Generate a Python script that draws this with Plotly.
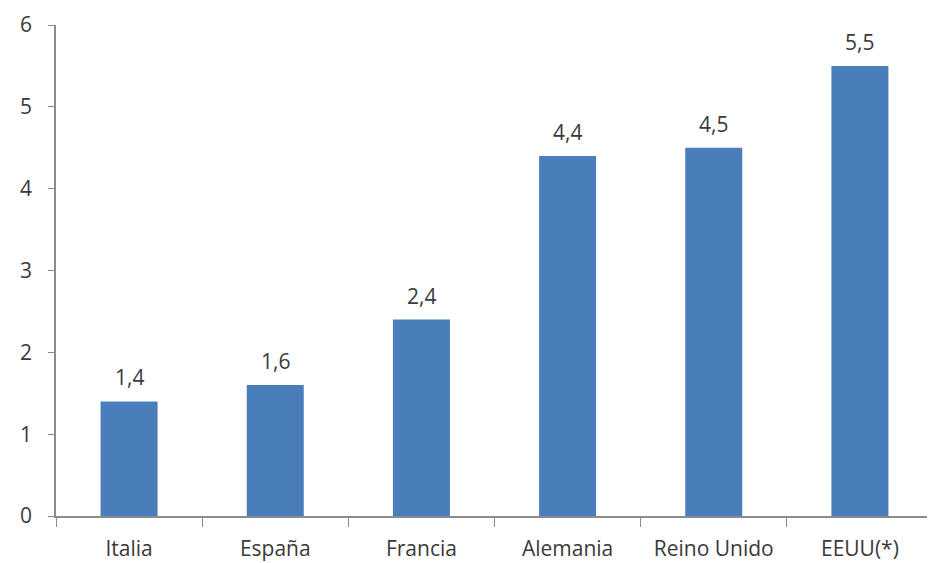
import plotly.graph_objects as go

categories = ["Italia", "España", "Francia", "Alemania", "Reino Unido", "EEUU(*)"]
values = [1.4, 1.6, 2.4, 4.4, 4.5, 5.5]
y_ticks = [0, 1, 2, 3, 4, 5, 6]

fig = go.Figure(go.Bar(x=categories, y=values, marker=dict(color="#4A7EBB", line=dict(width=0)), width=0.39))

for c, v in zip(categories, values):
    fig.add_annotation(x=c, y=v, text=f"{v:.1f}".replace(".", ","), showarrow=False,
                       yanchor="bottom", yshift=8, font=dict(family="Open Sans", size=21, color="#3a3a3a"))

fig.update_layout(
    width=927, height=555,
    margin=dict(l=48, r=2, t=17, b=47),
    paper_bgcolor="white", plot_bgcolor="white",
    showlegend=False,
    font=dict(family="Open Sans", size=21, color="#3a3a3a"),
)
fig.update_yaxes(range=[0, 6], tickvals=y_ticks, showgrid=False, zeroline=False,
                 showline=True, linecolor="#8c8c8c", linewidth=1.5, automargin=False,
                 ticks="outside", ticklen=6, tickcolor="#8c8c8c", tickfont=dict(size=21),
                 ticklabelstandoff=12)
fig.update_xaxes(showgrid=False, showline=True, linecolor="#8c8c8c", linewidth=1.5, automargin=False,
                 ticks="outside", tickson="boundaries", ticklen=9, tickcolor="#8c8c8c",
                 tickfont=dict(size=21), ticklabelstandoff=13)

fig.write_html("out.html")
